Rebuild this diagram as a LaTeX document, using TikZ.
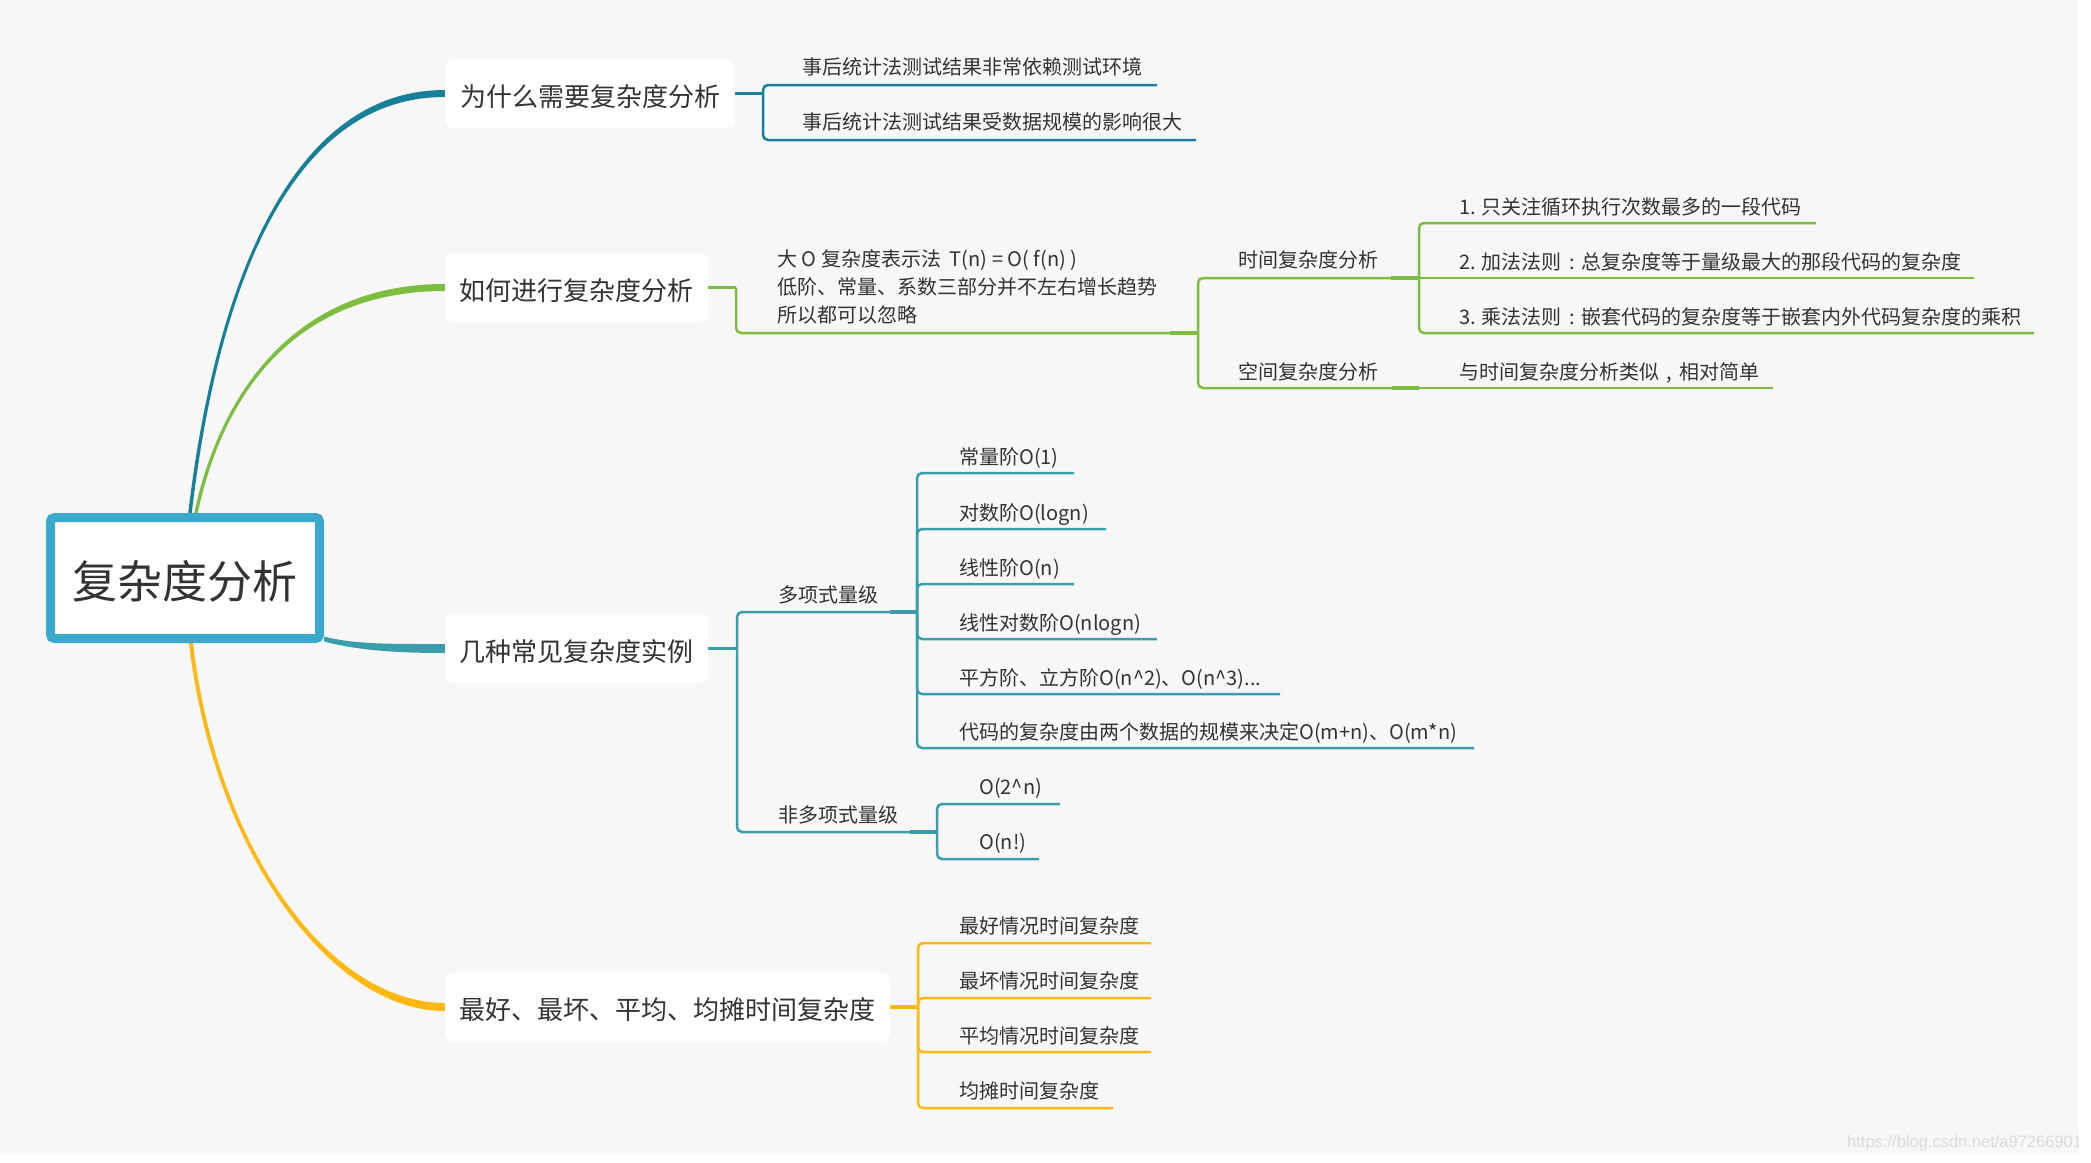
\documentclass[tikz,border=0pt]{standalone}
\usepackage{fontspec}
\setmainfont{Noto Sans CJK SC}
\newfontfamily\wmfont{Liberation Sans}
\usetikzlibrary{calc}
\pgfdeclarelayer{bglayer}
\pgfdeclarelayer{curvelayer}
\pgfsetlayers{bglayer,curvelayer,main}
\definecolor{cA}{HTML}{177F98}
\definecolor{cB}{HTML}{7DBD40}
\definecolor{cC}{HTML}{3A9EAA}
\definecolor{cD}{HTML}{FDB813}
\definecolor{rootc}{HTML}{3BA8CE}
\definecolor{ink}{HTML}{333333}
\definecolor{paper}{HTML}{F7F7F7}
\definecolor{wmc}{HTML}{DADADA}
\newcommand{\cpunct}[1]{\makebox[1em][c]{#1}}
\begin{document}
\begin{tikzpicture}[x=1pt,y=-1pt,
  rootbox/.style={draw=rootc, line width=9pt, fill=white, rounded corners=4pt, inner sep=0pt,
    minimum width=269pt, minimum height=121pt, text=ink,
    font=\fontsize{45}{50}\selectfont, text height=46pt, text depth=4.8pt},
  lone/.style={fill=white, rounded corners=8pt, inner sep=0pt, text=ink,
    font=\fontsize{26}{30}\selectfont, text height=27pt, text depth=1.2pt, minimum height=69pt},
  leaf/.style={anchor=west, inner sep=0pt, text=ink,
    font=\fontsize{20}{28}\selectfont, text height=17.6pt, text depth=2.4pt},
  leafm/.style={anchor=north west, inner sep=0pt, text=ink, align=left,
    font=\fontsize{20}{28}\selectfont},
  ul/.style={line width=2.5pt, rounded corners=5pt},
  cn/.style={line width=3.5pt}
]
\useasboundingbox (0,0) rectangle (2091,1162);
\begin{pgfonlayer}{bglayer}
  \fill[white] (0,0) rectangle (2091,1162);
  \fill[paper] (0,0) rectangle (2078,1154);
  \begin{scope}
    \clip (0,0) rectangle (2078,1154);
    \node[anchor=west, inner sep=0pt, text=wmc, font=\wmfont\fontsize{16.5}{18}\selectfont] (wm) at (1847,1143) {https://blog.csdn.net/a972669015};
  \end{scope}
\end{pgfonlayer}

% root and main topics
\node[rootbox] (root) at (185,578) {复杂度分析};
\node[lone, minimum width=290pt] (n1) at (590,93.5) {为什么需要复杂度分析};
\node[lone, minimum width=263pt] (n2) at (576.5,287.5) {如何进行复杂度分析};
\node[lone, minimum width=263pt] (n3) at (576.5,648.5) {几种常见复杂度实例};
\node[lone, minimum width=445pt] (n4) at (667.5,1007) {最好、最坏、平均、均摊时间复杂度};

% tapered curves from root
\coordinate (rA) at (190,513);
\coordinate (rB) at (196,513);
\coordinate (rC) at (324,639);
\coordinate (rD) at (191,643);
\begin{pgfonlayer}{curvelayer}
  \fill[cA] ($(rA)+(-1.75,0)$) .. controls (213.25,300) and (285,90) .. ($(n1.west)+(0,-3.5)$)
     -- ($(n1.west)+(0,3.5)$) .. controls (285,97) and (216.75,300) .. ($(rA)+(1.75,0)$) -- cycle;
  \fill[cB] ($(rB)+(-1.75,0)$) .. controls (218.25,400) and (290,284) .. ($(n2.west)+(0,-3.5)$)
     -- ($(n2.west)+(0,3.5)$) .. controls (290,291) and (221.75,400) .. ($(rB)+(1.75,0)$) -- cycle;
  \fill[cC] ($(rC)+(0,-2.5)$) .. controls (355,644.5) and (390,644) .. ($(n3.west)+(0,-4.5)$)
     -- ($(n3.west)+(0,4.5)$) .. controls (390,653) and (355,649.5) .. ($(rC)+(0,2.5)$) -- cycle;
  \fill[cD] ($(rD)+(-2,0)$) .. controls (213,850) and (330,1011) .. ($(n4.west)+(0,4)$)
     -- ($(n4.west)+(0,-4)$) .. controls (330,1003) and (217,850) .. ($(rD)+(2,0)$) -- cycle;
\end{pgfonlayer}

% ---------- branch 1 ----------
\coordinate (j1) at (763,93.5);
\draw[cn,cA] (n1.east) -- (j1);
\node[leaf] (a1) at (802,67) {事后统计法测试结果非常依赖测试环境};
\node[leaf] (a2) at (802,122) {事后统计法测试结果受数据规模的影响很大};
\coordinate (a1e) at (1157,85);
\coordinate (a2e) at (1196,140);
\draw[ul,cA] (j1) |- (a1e);
\draw[ul,cA] (j1) |- (a2e);

% ---------- branch 2 ----------
\coordinate (j2) at (736,287.5);
\draw[cn,cB] (n2.east) -- (j2);
\node[leafm] (b0) at (777,249) {\rule{0pt}{17.6pt}大 O 复杂度表示法\ \ T(n) = O( f(n) )\\低阶、常量、系数三部分并不左右增长趋势\\所以都可以忽略};
\coordinate (b0e) at (1170,333);
\coordinate (j3) at (1198,333);
\draw[ul,cB] (j2) |- (b0e);
\draw[cn,cB] (b0e) -- (j3);
\node[leaf] (b1) at (1238,260) {时间复杂度分析};
\node[leaf] (b2) at (1238,372) {空间复杂度分析};
\coordinate (b1e) at (1391,278);
\coordinate (b2e) at (1392,388);
\draw[ul,cB] (j3) |- (b1e);
\draw[ul,cB] (j3) |- (b2e);
\coordinate (j4) at (1419,278);
\draw[cn,cB] (b1e) -- (j4);
\node[leaf] (b11) at (1459,207) {1. 只关注循环执行次数最多的一段代码};
\node[leaf] (b12) at (1459,262) {2. 加法法则\cpunct{:}总复杂度等于量级最大的那段代码的复杂度};
\node[leaf] (b13) at (1459,317) {3. 乘法法则\cpunct{:}嵌套代码的复杂度等于嵌套内外代码复杂度的乘积};
\coordinate (b11e) at (1816,223);
\coordinate (b12e) at (1974,278);
\coordinate (b13e) at (2034,333);
\draw[ul,cB] (j4) |- (b11e);
\draw[ul,cB] (j4) -- (b12e);
\draw[ul,cB] (j4) |- (b13e);
\coordinate (j5) at (1419,388);
\draw[cn,cB] (b2e) -- (j5);
\node[leaf] (b21) at (1459,372) {与时间复杂度分析类似\cpunct{,}相对简单};
\coordinate (b21e) at (1773,388);
\draw[ul,cB] (j5) -- (b21e);

% ---------- branch 3 ----------
\coordinate (j6) at (737,648.5);
\draw[cn,cC] (n3.east) -- (j6);
\node[leaf] (c1) at (778,595) {多项式量级};
\node[leaf] (c2) at (778,815) {非多项式量级};
\coordinate (c1e) at (890,612);
\coordinate (c2e) at (910,832);
\draw[ul,cC] (j6) |- (c1e);
\draw[ul,cC] (j6) |- (c2e);
\coordinate (j7) at (917,612);
\draw[cn,cC] (c1e) -- (j7);
\node[leaf] (c11) at (959,457) {常量阶O(1)};
\node[leaf] (c12) at (959,513) {对数阶O(logn)};
\node[leaf] (c13) at (959,568) {线性阶O(n)};
\node[leaf] (c14) at (959,623) {线性对数阶O(nlogn)};
\node[leaf] (c15) at (959,678) {平方阶、立方阶O(n\textasciicircum 2)、O(n\textasciicircum 3)...};
\node[leaf] (c16) at (959,732) {代码的复杂度由两个数据的规模来决定O(m+n)、O(m*n)};
\coordinate (c11e) at (1074,473);
\coordinate (c12e) at (1106,529);
\coordinate (c13e) at (1074,584);
\coordinate (c14e) at (1157,639);
\coordinate (c15e) at (1280,694);
\coordinate (c16e) at (1474,748);
\foreach \k in {c11e,c12e,c13e,c14e,c15e,c16e} {\draw[ul,cC] (j7) |- (\k);}
\coordinate (j8) at (937,832);
\draw[cn,cC] (c2e) -- (j8);
\node[leaf] (c21) at (979,787) {O(2\textasciicircum n)};
\node[leaf] (c22) at (979,842) {O(n!)};
\coordinate (c21e) at (1060,804);
\coordinate (c22e) at (1039,859);
\draw[ul,cC] (j8) |- (c21e);
\draw[ul,cC] (j8) |- (c22e);

% ---------- branch 4 ----------
\coordinate (j9) at (918,1007);
\draw[cn,cD] (n4.east) -- (j9);
\node[leaf] (d1) at (959,926) {最好情况时间复杂度};
\node[leaf] (d2) at (959,981) {最坏情况时间复杂度};
\node[leaf] (d3) at (959,1036) {平均情况时间复杂度};
\node[leaf] (d4) at (959,1091) {均摊时间复杂度};
\coordinate (d1e) at (1151,943);
\coordinate (d2e) at (1151,998);
\coordinate (d3e) at (1151,1052);
\coordinate (d4e) at (1113,1108);
\foreach \k in {d1e,d2e,d3e,d4e} {\draw[ul,cD] (j9) |- (\k);}
\end{tikzpicture}
\end{document}
